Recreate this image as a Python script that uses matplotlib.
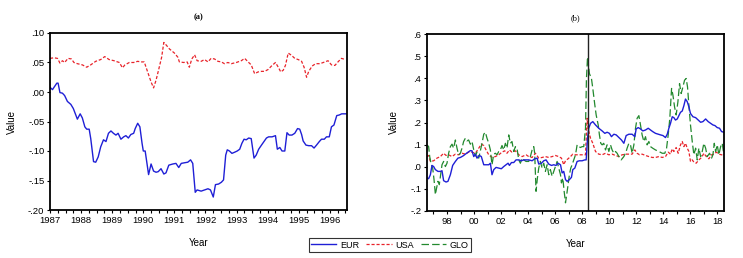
import matplotlib.pyplot as plt
from matplotlib.ticker import FuncFormatter, MultipleLocator

# ---------------- data: panel (a) ----------------
eur_a_t = [1987.00, 1987.08, 1987.13, 1987.22, 1987.26, 1987.32, 1987.40, 1987.47, 1987.56, 1987.67,
           1987.75, 1987.88, 1987.97, 1988.04, 1988.12, 1988.18, 1988.26, 1988.31, 1988.40, 1988.47,
           1988.55, 1988.63, 1988.72, 1988.80, 1988.88, 1988.96, 1989.04, 1989.12, 1989.19, 1989.28,
           1989.37, 1989.44, 1989.52, 1989.60, 1989.69, 1989.74, 1989.82, 1989.89, 1989.96, 1990.00,
           1990.06, 1990.14, 1990.17, 1990.25, 1990.33, 1990.41, 1990.48, 1990.57, 1990.66, 1990.73,
           1990.82, 1990.95, 1991.05, 1991.14, 1991.22, 1991.32, 1991.43, 1991.52, 1991.59, 1991.67,
           1991.73, 1991.86, 1991.97, 1992.08, 1992.16, 1992.25, 1992.32, 1992.42, 1992.51, 1992.58,
           1992.65, 1992.70, 1992.77, 1992.85, 1992.94, 1993.02, 1993.10, 1993.17, 1993.24, 1993.31,
           1993.39, 1993.47, 1993.56, 1993.63, 1993.71, 1993.80, 1993.88, 1993.96, 1994.03, 1994.14,
           1994.25, 1994.31, 1994.39, 1994.46, 1994.55, 1994.62, 1994.69, 1994.78, 1994.87, 1994.96,
           1995.03, 1995.09, 1995.14, 1995.23, 1995.32, 1995.41, 1995.49, 1995.57, 1995.66, 1995.73,
           1995.82, 1995.89, 1995.98, 1996.05, 1996.13, 1996.22, 1996.30, 1996.38, 1996.48, 1996.55]
eur_a = [0.008, 0.004, 0.008, 0.015, 0.015, -0.001, -0.002, -0.006, -0.016, -0.021,
         -0.028, -0.046, -0.037, -0.044, -0.059, -0.063, -0.063, -0.079, -0.118, -0.119,
         -0.110, -0.093, -0.081, -0.084, -0.070, -0.066, -0.070, -0.073, -0.070, -0.080,
         -0.076, -0.074, -0.078, -0.072, -0.070, -0.062, -0.053, -0.059, -0.087, -0.100,
         -0.100, -0.129, -0.140, -0.122, -0.134, -0.136, -0.135, -0.130, -0.139, -0.137,
         -0.124, -0.122, -0.121, -0.128, -0.121, -0.120, -0.119, -0.115, -0.121, -0.170,
         -0.166, -0.168, -0.166, -0.164, -0.166, -0.178, -0.157, -0.156, -0.153, -0.149,
         -0.107, -0.098, -0.100, -0.104, -0.102, -0.100, -0.097, -0.087, -0.080, -0.081,
         -0.078, -0.079, -0.112, -0.107, -0.097, -0.090, -0.084, -0.078, -0.076, -0.076,
         -0.074, -0.097, -0.094, -0.100, -0.100, -0.069, -0.073, -0.073, -0.070, -0.062,
         -0.063, -0.072, -0.083, -0.090, -0.091, -0.091, -0.095, -0.090, -0.084, -0.080,
         -0.080, -0.076, -0.076, -0.059, -0.056, -0.040, -0.039, -0.037, -0.037, -0.037]

usa_a_t = [1987.00, 1987.13, 1987.24, 1987.32, 1987.40, 1987.47, 1987.58, 1987.69, 1987.77, 1987.88,
           1988.04, 1988.18, 1988.31, 1988.47, 1988.63, 1988.76, 1988.90, 1989.06, 1989.23, 1989.33,
           1989.41, 1989.55, 1989.69, 1989.82, 1989.92, 1990.03, 1990.14, 1990.25, 1990.33, 1990.41,
           1990.49, 1990.59, 1990.66, 1990.73, 1990.84, 1991.00, 1991.11, 1991.16, 1991.30, 1991.41,
           1991.48, 1991.56, 1991.65, 1991.73, 1991.86, 1991.97, 1992.08, 1992.18, 1992.29, 1992.40,
           1992.51, 1992.61, 1992.72, 1992.83, 1992.99, 1993.15, 1993.26, 1993.37, 1993.47, 1993.58,
           1993.69, 1993.80, 1993.90, 1994.01, 1994.14, 1994.25, 1994.34, 1994.42, 1994.50, 1994.57,
           1994.66, 1994.77, 1994.87, 1994.98, 1995.09, 1995.17, 1995.25, 1995.32, 1995.43, 1995.54,
           1995.68, 1995.84, 1995.94, 1996.05, 1996.16, 1996.26, 1996.37, 1996.50]
usa_a = [0.057, 0.058, 0.057, 0.049, 0.053, 0.050, 0.057, 0.056, 0.050, 0.048,
         0.046, 0.042, 0.046, 0.052, 0.055, 0.060, 0.055, 0.053, 0.050, 0.041,
         0.046, 0.050, 0.050, 0.052, 0.051, 0.051, 0.034, 0.017, 0.007, 0.020,
         0.037, 0.059, 0.084, 0.080, 0.073, 0.066, 0.059, 0.051, 0.050, 0.051,
         0.042, 0.056, 0.063, 0.053, 0.052, 0.055, 0.051, 0.057, 0.056, 0.052,
         0.051, 0.048, 0.050, 0.048, 0.050, 0.053, 0.057, 0.051, 0.046, 0.031,
         0.034, 0.035, 0.035, 0.038, 0.045, 0.050, 0.042, 0.034, 0.037, 0.045,
         0.066, 0.062, 0.057, 0.055, 0.052, 0.042, 0.025, 0.035, 0.044, 0.048,
         0.048, 0.051, 0.053, 0.046, 0.045, 0.051, 0.057, 0.055]

# ---------------- data: panel (b) ----------------
eur_b_t = [1996.52, 1996.64, 1996.77, 1996.89, 1997.01, 1997.14, 1997.33, 1997.51, 1997.63, 1997.75,
           1997.93, 1998.07, 1998.25, 1998.42, 1998.62, 1998.81, 1998.99, 1999.19, 1999.36, 1999.56,
           1999.73, 1999.85, 1999.98, 2000.10, 2000.22, 2000.40, 2000.54, 2000.72, 2000.89, 2001.09,
           2001.21, 2001.33, 2001.46, 2001.63, 2001.83, 2002.02, 2002.20, 2002.37, 2002.52, 2002.62,
           2002.77, 2002.94, 2003.11, 2003.31, 2003.51, 2003.68, 2003.85, 2004.05, 2004.30, 2004.49,
           2004.67, 2004.79, 2004.99, 2005.16, 2005.33, 2005.53, 2005.73, 2005.90, 2006.07, 2006.22,
           2006.40, 2006.52, 2006.64, 2006.77, 2006.89, 2007.06, 2007.21, 2007.31, 2007.46, 2007.63,
           2007.80, 2008.00, 2008.20, 2008.30, 2008.40, 2008.49, 2008.62, 2008.79, 2008.99, 2009.23,
           2009.48, 2009.68, 2009.85, 2010.02, 2010.17, 2010.35, 2010.52, 2010.72, 2010.91, 2011.09,
           2011.26, 2011.46, 2011.70, 2011.90, 2012.00, 2012.15, 2012.32, 2012.49, 2012.69, 2012.89,
           2013.06, 2013.22, 2013.43, 2013.63, 2013.80, 2013.98, 2014.17, 2014.30, 2014.42, 2014.54,
           2014.67, 2014.79, 2014.91, 2015.04, 2015.16, 2015.28, 2015.41, 2015.53, 2015.65, 2015.78,
           2015.90, 2016.02, 2016.20, 2016.40, 2016.59, 2016.77, 2016.94, 2017.14, 2017.33, 2017.51,
           2017.68, 2017.83, 2018.00, 2018.17, 2018.32, 2018.49]
eur_b = [-0.051, -0.054, -0.036, 0.006, 0.001, -0.013, -0.021, -0.021, -0.018, -0.063,
         -0.069, -0.066, -0.036, 0.006, 0.024, 0.039, 0.042, 0.049, 0.057, 0.066,
         0.073, 0.072, 0.046, 0.057, 0.039, 0.051, 0.046, 0.009, 0.009, 0.009,
         0.016, -0.036, -0.013, -0.003, -0.006, -0.009, 0.001, 0.009, 0.016, 0.006,
         0.019, 0.019, 0.031, 0.031, 0.027, 0.031, 0.031, 0.031, 0.027, 0.036,
         0.039, 0.012, 0.016, 0.027, 0.031, 0.012, 0.006, 0.009, 0.006, 0.016,
         0.009, -0.028, -0.021, -0.058, -0.066, -0.058, -0.048, -0.013, -0.006, 0.024,
         0.027, 0.027, 0.031, 0.031, 0.129, 0.174, 0.196, 0.204, 0.189, 0.174,
         0.162, 0.151, 0.156, 0.151, 0.136, 0.147, 0.144, 0.132, 0.121, 0.106,
         0.141, 0.147, 0.147, 0.136, 0.171, 0.177, 0.171, 0.162, 0.166, 0.174,
         0.166, 0.159, 0.151, 0.147, 0.144, 0.141, 0.132, 0.147, 0.174, 0.196,
         0.226, 0.222, 0.211, 0.216, 0.231, 0.246, 0.252, 0.276, 0.306, 0.294,
         0.271, 0.241, 0.226, 0.222, 0.211, 0.201, 0.204, 0.216, 0.204, 0.196,
         0.189, 0.186, 0.177, 0.174, 0.159, 0.156]

usa_b_t = [1996.52, 1996.64, 1996.77, 1997.01, 1997.26, 1997.51, 1997.75, 1997.93, 1998.12, 1998.37,
           1998.62, 1998.86, 1999.11, 1999.36, 1999.60, 1999.85, 2000.10, 2000.35, 2000.54, 2000.72,
           2000.89, 2001.09, 2001.33, 2001.58, 2001.83, 2002.07, 2002.27, 2002.44, 2002.62, 2002.81,
           2003.06, 2003.31, 2003.56, 2003.85, 2004.05, 2004.30, 2004.54, 2004.79, 2005.04, 2005.28,
           2005.53, 2005.78, 2006.02, 2006.27, 2006.47, 2006.64, 2006.77, 2006.96, 2007.14, 2007.31,
           2007.51, 2007.75, 2008.00, 2008.25, 2008.32, 2008.37, 2008.44, 2008.62, 2008.79, 2008.99,
           2009.23, 2009.48, 2009.73, 2009.98, 2010.22, 2010.47, 2010.72, 2010.96, 2011.26, 2011.46,
           2011.70, 2011.90, 2012.07, 2012.25, 2012.44, 2012.69, 2012.94, 2013.19, 2013.43, 2013.68,
           2013.93, 2014.17, 2014.37, 2014.54, 2014.67, 2014.79, 2014.96, 2015.11, 2015.28, 2015.41,
           2015.53, 2015.65, 2015.78, 2015.90, 2016.02, 2016.15, 2016.27, 2016.44, 2016.64, 2016.84,
           2017.01, 2017.19, 2017.38, 2017.58, 2017.75, 2017.93, 2018.12, 2018.32, 2018.49]
usa_b = [0.046, 0.051, 0.024, 0.027, 0.039, 0.046, 0.061, 0.051, 0.054, 0.046,
         0.057, 0.054, 0.061, 0.057, 0.066, 0.066, 0.061, 0.084, 0.102, 0.096,
         0.076, 0.054, 0.042, 0.046, 0.054, 0.066, 0.072, 0.061, 0.076, 0.066,
         0.072, 0.054, 0.046, 0.054, 0.046, 0.042, 0.061, 0.039, 0.042, 0.046,
         0.042, 0.046, 0.051, 0.046, 0.039, 0.009, 0.027, 0.036, 0.046, 0.057,
         0.054, 0.054, 0.054, 0.054, 0.159, 0.219, 0.174, 0.129, 0.106, 0.069,
         0.057, 0.054, 0.061, 0.054, 0.057, 0.051, 0.046, 0.054, 0.057, 0.057,
         0.057, 0.076, 0.061, 0.054, 0.057, 0.051, 0.046, 0.042, 0.042, 0.046,
         0.042, 0.046, 0.066, 0.057, 0.081, 0.069, 0.087, 0.061, 0.099, 0.114,
         0.091, 0.106, 0.084, 0.069, 0.024, 0.031, 0.021, 0.016, 0.031, 0.042,
         0.061, 0.046, 0.036, 0.054, 0.057, 0.066, 0.057, 0.054, 0.051]

glo_b_t = [1996.52, 1996.64, 1996.72, 1996.84, 1996.94, 1997.04, 1997.14, 1997.23, 1997.33, 1997.43,
           1997.53, 1997.63, 1997.75, 1997.88, 1998.00, 1998.12, 1998.25, 1998.37, 1998.49, 1998.62,
           1998.74, 1998.86, 1998.99, 1999.11, 1999.23, 1999.36, 1999.48, 1999.60, 1999.73, 1999.85,
           1999.98, 2000.10, 2000.22, 2000.35, 2000.47, 2000.59, 2000.72, 2000.84, 2000.96, 2001.09,
           2001.21, 2001.33, 2001.46, 2001.58, 2001.70, 2001.83, 2001.95, 2002.07, 2002.20, 2002.32,
           2002.44, 2002.57, 2002.69, 2002.81, 2002.94, 2003.06, 2003.18, 2003.31, 2003.43, 2003.56,
           2003.68, 2003.85, 2004.05, 2004.17, 2004.30, 2004.42, 2004.49, 2004.59, 2004.69, 2004.79,
           2004.91, 2005.04, 2005.16, 2005.28, 2005.41, 2005.53, 2005.65, 2005.78, 2005.90, 2006.02,
           2006.15, 2006.27, 2006.40, 2006.47, 2006.57, 2006.67, 2006.77, 2006.86, 2006.96, 2007.06,
           2007.16, 2007.26, 2007.38, 2007.51, 2007.63, 2007.75, 2007.88, 2008.00, 2008.12, 2008.25,
           2008.32, 2008.40, 2008.47, 2008.54, 2008.69, 2008.79, 2008.94, 2009.04, 2009.19, 2009.28,
           2009.38, 2009.48, 2009.60, 2009.73, 2009.85, 2009.98, 2010.10, 2010.22, 2010.35, 2010.47,
           2010.59, 2010.72, 2010.89, 2011.09, 2011.26, 2011.33, 2011.46, 2011.58, 2011.70, 2011.83,
           2011.95, 2012.07, 2012.20, 2012.32, 2012.44, 2012.57, 2012.69, 2012.81, 2012.94, 2013.06,
           2013.22, 2013.43, 2013.68, 2013.93, 2014.12, 2014.25, 2014.37, 2014.49, 2014.62, 2014.72,
           2014.84, 2014.96, 2015.09, 2015.21, 2015.33, 2015.46, 2015.58, 2015.70, 2015.80, 2015.90,
           2016.02, 2016.15, 2016.27, 2016.40, 2016.52, 2016.64, 2016.77, 2016.89, 2017.01, 2017.14,
           2017.26, 2017.43, 2017.58, 2017.68, 2017.78, 2017.88, 2018.00, 2018.12, 2018.25, 2018.37,
           2018.49]
glo_b = [0.099, 0.091, 0.046, 0.009, -0.006, -0.058, -0.126, -0.096, -0.066, -0.081,
         -0.036, 0.009, 0.024, 0.001, 0.016, 0.061, 0.091, 0.102, 0.084, 0.121,
         0.084, 0.054, 0.061, 0.084, 0.114, 0.129, 0.117, 0.121, 0.102, 0.114,
         0.076, 0.049, 0.066, 0.039, 0.072, 0.106, 0.147, 0.156, 0.129, 0.106,
         0.076, 0.009, 0.057, 0.061, 0.054, 0.069, 0.076, 0.096, 0.076, 0.106,
         0.084, 0.144, 0.106, 0.114, 0.069, 0.091, 0.084, 0.031, 0.016, 0.039,
         0.031, 0.024, 0.024, 0.046, 0.076, 0.091, 0.061, -0.111, -0.051, -0.006,
         0.024, -0.006, 0.016, -0.021, 0.009, -0.036, -0.013, -0.043, -0.021, 0.001,
         0.024, -0.006, -0.036, -0.073, -0.051, -0.111, -0.163, -0.126, -0.081, -0.036,
         -0.006, 0.009, 0.031, 0.054, 0.099, 0.091, 0.087, 0.091, 0.091, 0.174,
         0.399, 0.496, 0.458, 0.421, 0.399, 0.354, 0.279, 0.234, 0.189, 0.144,
         0.106, 0.099, 0.106, 0.076, 0.099, 0.069, 0.099, 0.076, 0.061, 0.069,
         0.061, 0.046, 0.031, 0.046, 0.069, 0.084, 0.106, 0.099, 0.061, 0.099,
         0.174, 0.219, 0.231, 0.189, 0.144, 0.114, 0.136, 0.099, 0.114, 0.091,
         0.084, 0.076, 0.069, 0.061, 0.061, 0.084, 0.144, 0.219, 0.354, 0.324,
         0.271, 0.234, 0.294, 0.376, 0.331, 0.361, 0.391, 0.399, 0.361, 0.279,
         0.189, 0.114, 0.054, 0.084, 0.031, 0.084, 0.046, 0.069, 0.106, 0.084,
         0.046, 0.061, 0.039, 0.054, 0.106, 0.069, 0.099, 0.054, 0.091, 0.106,
         0.054]

break_year = 2008.42

# ---------------- styling ----------------
plt.rcParams['font.family'] = ['Liberation Sans', 'DejaVu Sans']
BLUE = '#1f1fd6'
RED = '#e8232a'
GREEN = '#22892e'


def dot_fmt(decimals):
    def f(v, pos):
        s = f"{v:.{decimals}f}"
        return s.replace("0.", ".", 1)
    return FuncFormatter(f)


def style_axes(ax):
    for sp in ax.spines.values():
        sp.set_linewidth(1.3)
    ax.tick_params(which='both', direction='out', length=2.5, width=0.8,
                   labelsize=6.8, pad=1.5)
    ax.set_xlabel("Year", fontsize=7, labelpad=10)
    ax.set_ylabel("Value", fontsize=7, labelpad=8)


fig = plt.figure(figsize=(7.43, 2.58), dpi=100)

# panel (a)
ax1 = fig.add_axes([50 / 743, 1 - 210 / 258, 297 / 743, 177 / 258])
ax1.plot(eur_a_t, eur_a, color=BLUE, lw=1.0, label="EUR")
ax1.plot(usa_a_t, usa_a, color=RED, lw=0.9, dashes=(2.5, 1.5), label="USA")
ax1.set_xlim(1987.0, 1996.55)
ax1.set_ylim(-0.20, 0.10)
ax1.xaxis.set_major_locator(MultipleLocator(1))
ax1.xaxis.set_minor_locator(MultipleLocator(0.25))
ax1.xaxis.set_major_formatter(FuncFormatter(lambda v, p: f"{int(round(v))}"))
ax1.yaxis.set_major_locator(MultipleLocator(0.05))
ax1.yaxis.set_major_formatter(dot_fmt(2))
style_axes(ax1)
ax1.set_title("(a)", fontsize=6, fontweight='bold', family='Liberation Serif', pad=10)

# panel (b)
ax2 = fig.add_axes([427 / 743, 1 - 211 / 258, 297 / 743, 177 / 258])
ax2.plot(usa_b_t, usa_b, color=RED, lw=0.9, dashes=(2.5, 1.5))
ax2.plot(glo_b_t, glo_b, color=GREEN, lw=0.9, dashes=(6, 2.5), label="GLO")
ax2.plot(eur_b_t, eur_b, color=BLUE, lw=1.0)
ax2.axvline(break_year, color='#222222', lw=1.0)
ax2.set_xlim(1996.52, 2018.5)
ax2.set_ylim(-0.2, 0.6)
ax2.xaxis.set_major_locator(MultipleLocator(2))
ax2.xaxis.set_minor_locator(MultipleLocator(1))
ax2.xaxis.set_major_formatter(FuncFormatter(lambda v, p: f"{int(round(v)) % 100:02d}"))
ax2.yaxis.set_major_locator(MultipleLocator(0.1))
ax2.yaxis.set_major_formatter(dot_fmt(1))
style_axes(ax2)
ax2.set_title("(b)", fontsize=6, family='Liberation Serif', pad=10)

handles = ax1.get_lines() + [ax2.get_lines()[1]]
leg = fig.legend(handles, ["EUR", "USA", "GLO"], ncol=3, loc='center',
                 bbox_to_anchor=(390 / 743, 1 - 245 / 258), fontsize=6.5,
                 frameon=True, fancybox=False, edgecolor='black',
                 handlelength=2.8, columnspacing=0.8, handletextpad=0.4,
                 borderpad=0.25)
leg.get_frame().set_linewidth(0.8)

fig.savefig("out.png", dpi=100)
